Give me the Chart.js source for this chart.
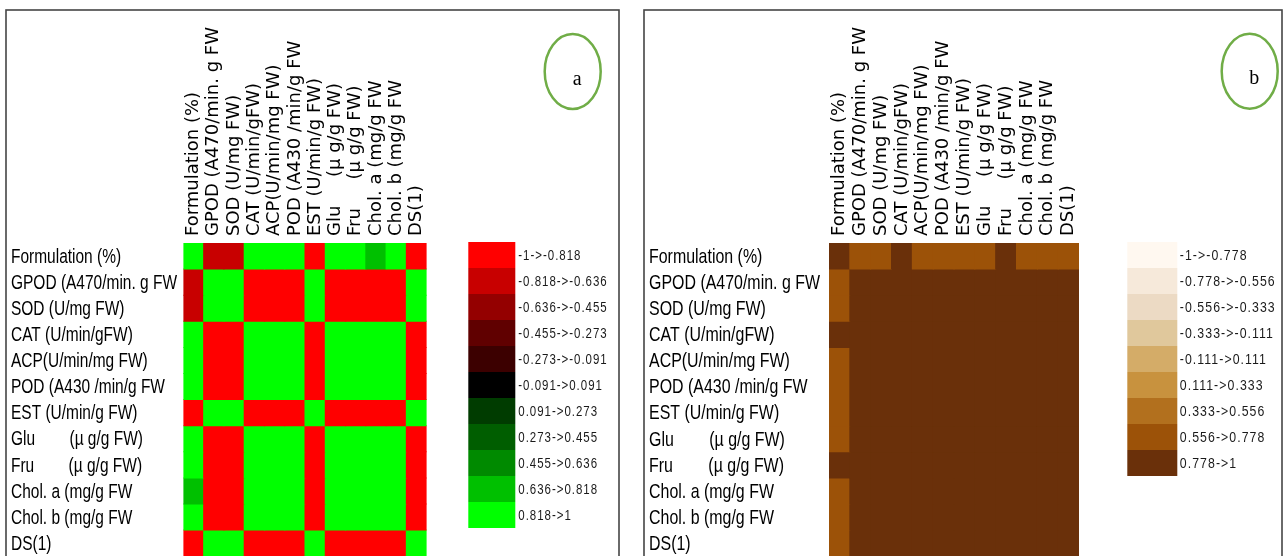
<!DOCTYPE html>
<html>
<head>
<meta charset="utf-8">
<script src="https://cdn.jsdelivr.net/npm/chart.js@4.4.1/dist/chart.umd.min.js"></script>
<style>
  html, body { margin: 0; padding: 0; width: 1283px; height: 556px; overflow: hidden; background: #ffffff; }
  canvas { position: absolute; top: 0; }
</style>
</head>
<body>
<canvas id="panelA" width="640" height="600" style="left:0px"></canvas>
<canvas id="panelB" width="643" height="600" style="left:640px"></canvas>
<script>
// Variables, in matrix order (rows top to bottom, columns left to right)
const rowLabels = [
  'Formulation (%)',
  'GPOD (A470/min. g FW',
  'SOD (U/mg FW)',
  'CAT (U/min/gFW)',
  'ACP(U/min/mg FW)',
  'POD (A430 /min/g FW',
  'EST (U/min/g FW)',
  'Glu        (µ g/g FW)',
  'Fru        (µ g/g FW)',
  'Chol. a (mg/g FW',
  'Chol. b (mg/g FW',
  'DS(1)'
];
const colLabels = [
  'Formulation (%)',
  'GPOD (A470/min. g FW',
  'SOD (U/mg FW)',
  'CAT (U/min/gFW)',
  'ACP(U/min/mg FW)',
  'POD (A430 /min/g FW',
  'EST (U/min/g FW)',
  'Glu     (µ g/g FW)',
  'Fru     (µ g/g FW)',
  'Chol. a (mg/g FW',
  'Chol. b (mg/g FW',
  'DS(1)'
];

// (a) correlation coefficients
const corrA = [
  [ 1.00, -0.72, -0.70,  0.92,  0.90,  0.91, -0.89,  0.93,  0.90,  0.77,  0.87, -0.94],
  [-0.72,  1.00,  0.98, -0.96, -0.95, -0.97,  0.96, -0.95, -0.94, -0.93, -0.95,  0.97],
  [-0.70,  0.98,  1.00, -0.95, -0.96, -0.94,  0.95, -0.96, -0.93, -0.92, -0.94,  0.96],
  [ 0.92, -0.96, -0.95,  1.00,  0.98,  0.97, -0.96,  0.97,  0.98,  0.94,  0.96, -0.98],
  [ 0.90, -0.95, -0.96,  0.98,  1.00,  0.99, -0.97,  0.98,  0.96,  0.95,  0.97, -0.96],
  [ 0.91, -0.97, -0.94,  0.97,  0.99,  1.00, -0.95,  0.96,  0.97,  0.93,  0.95, -0.97],
  [-0.89,  0.96,  0.95, -0.96, -0.97, -0.95,  1.00, -0.94, -0.95, -0.92, -0.93,  0.98],
  [ 0.93, -0.95, -0.96,  0.97,  0.98,  0.96, -0.94,  1.00,  0.97,  0.95,  0.96, -0.95],
  [ 0.90, -0.94, -0.93,  0.98,  0.96,  0.97, -0.95,  0.97,  1.00,  0.94,  0.95, -0.96],
  [ 0.77, -0.93, -0.92,  0.94,  0.95,  0.93, -0.92,  0.95,  0.94,  1.00,  0.97, -0.93],
  [ 0.87, -0.95, -0.94,  0.96,  0.97,  0.95, -0.93,  0.96,  0.95,  0.97,  1.00, -0.94],
  [-0.94,  0.97,  0.96, -0.98, -0.96, -0.97,  0.98, -0.95, -0.96, -0.93, -0.94,  1.00]
];

// (b) coefficients
const corrB = [
  [1.00, 0.70, 0.68, 0.84, 0.72, 0.71, 0.74, 0.73, 0.82, 0.66, 0.70, 0.75],
  [0.70, 1.00, 0.97, 0.93, 0.92, 0.94, 0.93, 0.92, 0.91, 0.89, 0.92, 0.95],
  [0.68, 0.97, 1.00, 0.92, 0.93, 0.91, 0.92, 0.93, 0.90, 0.88, 0.91, 0.93],
  [0.84, 0.93, 0.92, 1.00, 0.97, 0.95, 0.93, 0.95, 0.96, 0.90, 0.93, 0.96],
  [0.72, 0.92, 0.93, 0.97, 1.00, 0.98, 0.94, 0.96, 0.93, 0.92, 0.94, 0.93],
  [0.71, 0.94, 0.91, 0.95, 0.98, 1.00, 0.92, 0.93, 0.94, 0.90, 0.92, 0.94],
  [0.74, 0.93, 0.92, 0.93, 0.94, 0.92, 1.00, 0.91, 0.92, 0.89, 0.90, 0.96],
  [0.73, 0.92, 0.93, 0.95, 0.96, 0.93, 0.91, 1.00, 0.95, 0.92, 0.93, 0.92],
  [0.82, 0.91, 0.90, 0.96, 0.93, 0.94, 0.92, 0.95, 1.00, 0.91, 0.92, 0.93],
  [0.66, 0.89, 0.88, 0.90, 0.92, 0.90, 0.89, 0.92, 0.91, 1.00, 0.95, 0.90],
  [0.70, 0.92, 0.91, 0.93, 0.94, 0.92, 0.90, 0.93, 0.92, 0.95, 1.00, 0.91],
  [0.75, 0.95, 0.93, 0.96, 0.93, 0.94, 0.96, 0.92, 0.93, 0.90, 0.91, 1.00]
];

// Colour classes
const classesA = [
  '-1->-0.818', '-0.818->-0.636', '-0.636->-0.455', '-0.455->-0.273', '-0.273->-0.091',
  '-0.091->0.091', '0.091->0.273', '0.273->0.455', '0.455->0.636', '0.636->0.818', '0.818->1'
];
const coloursA = [
  '#ff0000', '#c80000', '#940000', '#600000', '#3c0000',
  '#000000', '#003c00', '#005e00', '#008a00', '#00c000', '#00ff00'
];
const classesB = [
  '-1->-0.778', '-0.778->-0.556', '-0.556->-0.333', '-0.333->-0.111', '-0.111->0.111',
  '0.111->0.333', '0.333->0.556', '0.556->0.778', '0.778->1'
];
const coloursB = [
  '#fff8f0', '#f6e9da', '#ecdac4', '#e0c89c', '#d4ac68',
  '#c8923e', '#b2701e', '#9c5208', '#6a300a'
];

function classColour(v, colours) {
  const n = colours.length;
  const k = Math.min(n - 1, Math.max(0, Math.floor((v + 1) / (2 / n))));
  return colours[k];
}

// Draws a string squeezed horizontally to the given scale
function narrowText(ctx, text, x, y, sx) {
  ctx.save();
  ctx.translate(x, y);
  ctx.scale(sx, 1);
  ctx.fillText(text, 0, 0);
  ctx.restore();
}

// Row names, frame, class legend and panel tag
function panelDecor(opts) {
  return {
    id: 'panelDecor',
    afterDraw(chart) {
      const ctx = chart.ctx;
      const yScale = chart.scales.y;
      const top = chart.chartArea.top;
      ctx.save();
      // row names, placed on the y scale
      ctx.font = opts.rowFont;
      ctx.fillStyle = '#000000';
      ctx.textAlign = 'left';
      ctx.textBaseline = 'middle';
      const sxRow = opts.rowRefWidth / ctx.measureText(rowLabels[1]).width;
      rowLabels.forEach((lab, i) => {
        narrowText(ctx, lab, opts.labelLeft, yScale.getPixelForValue(i + 0.5) + 1, sxRow);
      });
      // frame
      ctx.strokeStyle = '#454545';
      ctx.lineWidth = 1.6;
      ctx.strokeRect(opts.frame[0], opts.frame[1], opts.frame[2], opts.frame[3]);
      // class legend
      opts.classes.forEach((lab, k) => {
        const y = top - 1 + k * 26;
        ctx.fillStyle = opts.colours[k];
        ctx.fillRect(opts.legendX, y, opts.legendW, 26);
      });
      ctx.font = opts.legendFont;
      ctx.fillStyle = '#1a1a1a';
      if ('letterSpacing' in ctx) ctx.letterSpacing = opts.letterSpacing;
      opts.classes.forEach((lab, k) => {
        const y = top - 1 + k * 26;
        narrowText(ctx, lab, opts.legendX + opts.legendW + opts.legendGap, y + 14, 0.82);
      });
      if ('letterSpacing' in ctx) ctx.letterSpacing = '0px';
      // tag
      ctx.strokeStyle = '#70ad47';
      ctx.lineWidth = 2.5;
      ctx.beginPath();
      ctx.ellipse(opts.tag.cx, opts.tag.cy, 28, 37.5, 0, 0, Math.PI * 2);
      ctx.stroke();
      ctx.fillStyle = '#000000';
      ctx.font = '20px "Liberation Serif"';
      ctx.textAlign = 'center';
      ctx.textBaseline = 'alphabetic';
      ctx.fillText(opts.tag.text, opts.tag.cx + 4.5, opts.tag.cy + 13);
      ctx.restore();
    }
  };
}

function makePanel(id, o) {
  const canvas = document.getElementById(id);
  const W = canvas.width, H = canvas.height;
  const nRows = rowLabels.length;
  const gridBottom = o.gridTop + nRows * o.rowH;
  const datasets = o.values.map((row, r) => ({
    data: row.map(() => [r, r + 1]),
    backgroundColor: row.map(v => classColour(v, o.colours)),
    borderWidth: 0,
    inflateAmount: 0.5,
    barPercentage: 1,
    categoryPercentage: 1,
    grouped: false
  }));
  return new Chart(canvas, {
    type: 'bar',
    data: { labels: colLabels, datasets },
    options: {
      responsive: false,
      animation: false,
      devicePixelRatio: 1,
      layout: {
        autoPadding: false,
        padding: { left: o.labelLeft, right: W - o.gridRight, top: 0, bottom: H - gridBottom }
      },
      plugins: { legend: { display: false }, tooltip: { enabled: false } },
      scales: {
        x: {
          position: 'top',
          grid: { display: false, drawTicks: false },
          border: { display: false },
          ticks: {
            autoSkip: false, minRotation: 90, maxRotation: 90,
            padding: 7, color: '#000000',
            labelOffset: o.colFont * 1.2,
            font: { family: 'DejaVu Sans', size: o.colFont }
          },
          afterFit(scale) { scale.height = o.gridTop; }
        },
        y: {
          type: 'linear', min: 0, max: nRows, reverse: true,
          grid: { display: false, drawTicks: false },
          border: { display: false },
          afterBuildTicks(scale) { scale.ticks = rowLabels.map((_, i) => ({ value: i + 0.5 })); },
          ticks: { display: false },
          afterFit(scale) { scale.width = o.gridLeft - o.labelLeft; }
        }
      }
    },
    plugins: [panelDecor(o)]
  });
}

makePanel('panelA', {
  values: corrA, colours: coloursA, classes: classesA,
  gridLeft: 183.4, gridRight: 426.6, gridTop: 243, rowH: 26.1, labelLeft: 11,
  colFont: 18, rowFont: '20.5px "Liberation Sans"', rowRefWidth: 166,
  legendX: 468.3, legendW: 47, legendGap: 3, legendFont: '14px "Liberation Sans"', letterSpacing: '1.2px',
  frame: [6, 10, 613, 620],
  tag: { cx: 572.7, cy: 71.5, text: 'a' }
});

makePanel('panelB', {
  values: corrB, colours: coloursB, classes: classesB,
  gridLeft: 189, gridRight: 439, gridTop: 243, rowH: 26.1, labelLeft: 9,
  colFont: 18, rowFont: '21px "Liberation Sans"', rowRefWidth: 171,
  legendX: 487.3, legendW: 50, legendGap: 2.5, legendFont: '15px "Liberation Sans"', letterSpacing: '1.3px',
  frame: [4, 10, 638, 620],
  tag: { cx: 609.7, cy: 71.3, text: 'b' }
});
</script>
</body>
</html>
